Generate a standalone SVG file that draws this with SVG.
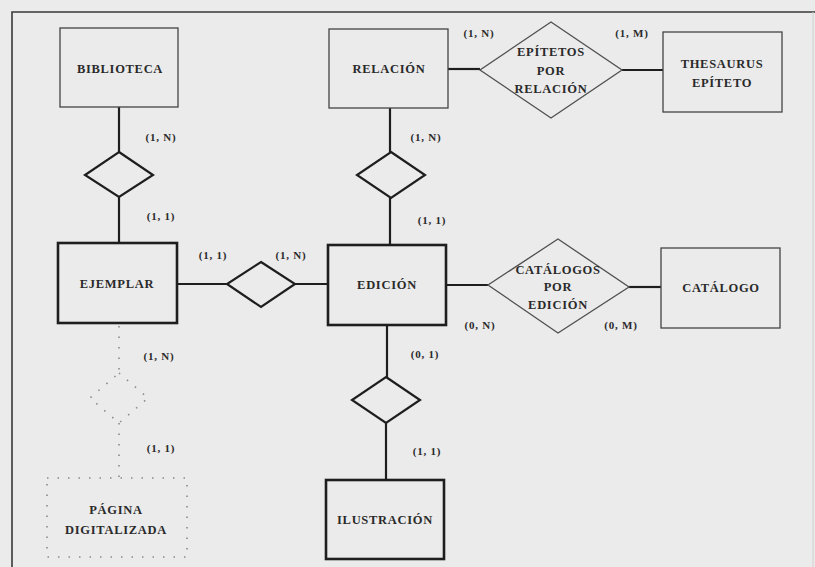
<svg xmlns="http://www.w3.org/2000/svg" width="815" height="567" viewBox="0 0 815 567">
<style>
text{font-family:"Liberation Serif","Times New Roman",serif;font-weight:bold;fill:#2a2a2a;text-anchor:middle}
.name{font-size:12.5px;letter-spacing:0.7px}
.card{font-size:11px;letter-spacing:0.8px}
.thin{fill:none;stroke:#444;stroke-width:1.3}
.thick{fill:none;stroke:#1e1e1e;stroke-width:2.6}
.dia{fill:none;stroke:#1e1e1e;stroke-width:2.2}
.bigdia{fill:none;stroke:#505050;stroke-width:1.3}
.conn{stroke:#1e1e1e;stroke-width:2.2;fill:none}
.dot{fill:none;stroke:#8a8a8a;stroke-width:1.6;stroke-dasharray:1.5 9}
</style>
<rect x="0" y="0" width="815" height="567" fill="#ebebeb"/>
<g id="frame" fill="none">
<path d="M12 567 V12 H815" stroke="#3a3a3a" stroke-width="1.6"/>
<path d="M813 12 V567" stroke="#d0d0d0" stroke-width="1"/>
</g>
<g id="connectors">
<line class="conn" x1="119" y1="107" x2="119" y2="152"/>
<line class="conn" x1="119" y1="197" x2="119" y2="243"/>
<line class="conn" x1="177" y1="284" x2="227" y2="284"/>
<line class="conn" x1="295" y1="284" x2="328" y2="284"/>
<line class="conn" x1="390" y1="108" x2="390" y2="152"/>
<line class="conn" x1="390" y1="198" x2="390" y2="245"/>
<line class="conn" x1="448" y1="69" x2="480" y2="69"/>
<line class="conn" x1="622" y1="70" x2="663" y2="70"/>
<line class="conn" x1="446" y1="285" x2="488" y2="285" stroke-width="1.6"/>
<line class="conn" x1="629" y1="287" x2="661" y2="287" stroke-width="1.4" stroke="#444"/>
<line class="conn" x1="387" y1="325" x2="387" y2="377"/>
<line class="conn" x1="386" y1="423" x2="386" y2="480"/>
<line class="dot" x1="119" y1="326" x2="119" y2="373"/>
<line class="dot" x1="119" y1="423" x2="119" y2="478"/>
</g>
<g id="biblioteca">
<rect class="thin" x="60" y="28" width="118" height="79"/>
<text class="name" x="120" y="73">BIBLIOTECA</text>
</g>
<g id="rel-biblioteca-ejemplar">
<polygon class="dia" points="119,152 153,175 119,197 85,175"/>
<text class="card" x="161" y="141">(1, N)</text>
<text class="card" x="161" y="220">(1, 1)</text>
</g>
<g id="ejemplar">
<rect class="thick" x="58" y="243" width="119" height="80"/>
<text class="name" x="117" y="288">EJEMPLAR</text>
</g>
<g id="rel-ejemplar-edicion">
<polygon class="dia" points="261,262 295,284 261,307 227,284"/>
<text class="card" x="213" y="259">(1, 1)</text>
<text class="card" x="291" y="259">(1, N)</text>
</g>
<g id="relacion">
<rect class="thin" x="329" y="29" width="119" height="79"/>
<text class="name" x="389" y="73">RELACIÓN</text>
</g>
<g id="rel-relacion-edicion">
<polygon class="dia" points="391,152 425,175 391,198 357,175"/>
<text class="card" x="426" y="141">(1, N)</text>
<text class="card" x="432" y="224">(1, 1)</text>
</g>
<g id="epitetos-por-relacion">
<polygon class="bigdia" points="551,22 622,70 551,118 480,70"/>
<text class="name" x="551" y="56">EPÍTETOS</text>
<text class="name" x="551" y="75">POR</text>
<text class="name" x="551" y="93">RELACIÓN</text>
<text class="card" x="479" y="37">(1, N)</text>
<text class="card" x="632" y="37">(1, M)</text>
</g>
<g id="thesaurus-epiteto">
<rect class="thin" x="663" y="32" width="119" height="80"/>
<text class="name" x="722" y="68">THESAURUS</text>
<text class="name" x="722" y="87">EPÍTETO</text>
</g>
<g id="edicion">
<rect class="thick" x="328" y="245" width="118" height="80"/>
<text class="name" x="387" y="289">EDICIÓN</text>
</g>
<g id="catalogos-por-edicion">
<polygon class="bigdia" points="558,239 629,287 558,333 488,285"/>
<text class="name" x="558" y="274">CATÁLOGOS</text>
<text class="name" x="558" y="291">POR</text>
<text class="name" x="558" y="309">EDICIÓN</text>
<text class="card" x="480" y="329">(0, N)</text>
<text class="card" x="621" y="329">(0, M)</text>
</g>
<g id="catalogo">
<rect class="thin" x="661" y="248" width="119" height="80"/>
<text class="name" x="721" y="292">CATÁLOGO</text>
</g>
<g id="rel-edicion-ilustracion">
<polygon class="dia" points="386,377 420,400 386,423 352,400"/>
<text class="card" x="425" y="358">(0, 1)</text>
<text class="card" x="427" y="455">(1, 1)</text>
</g>
<g id="ilustracion">
<rect class="thick" x="326" y="480" width="118" height="79"/>
<text class="name" x="385" y="524">ILUSTRACIÓN</text>
</g>
<g id="rel-ejemplar-pagina">
<polygon class="dot" points="119,373 148,398 119,423 90,398"/>
<text class="card" x="159" y="360">(1, N)</text>
<text class="card" x="161" y="452">(1, 1)</text>
</g>
<g id="pagina-digitalizada">
<rect class="dot" x="47" y="478" width="140" height="79"/>
<text class="name" x="116" y="514">PÁGINA</text>
<text class="name" x="116" y="534">DIGITALIZADA</text>
</g>
</svg>
